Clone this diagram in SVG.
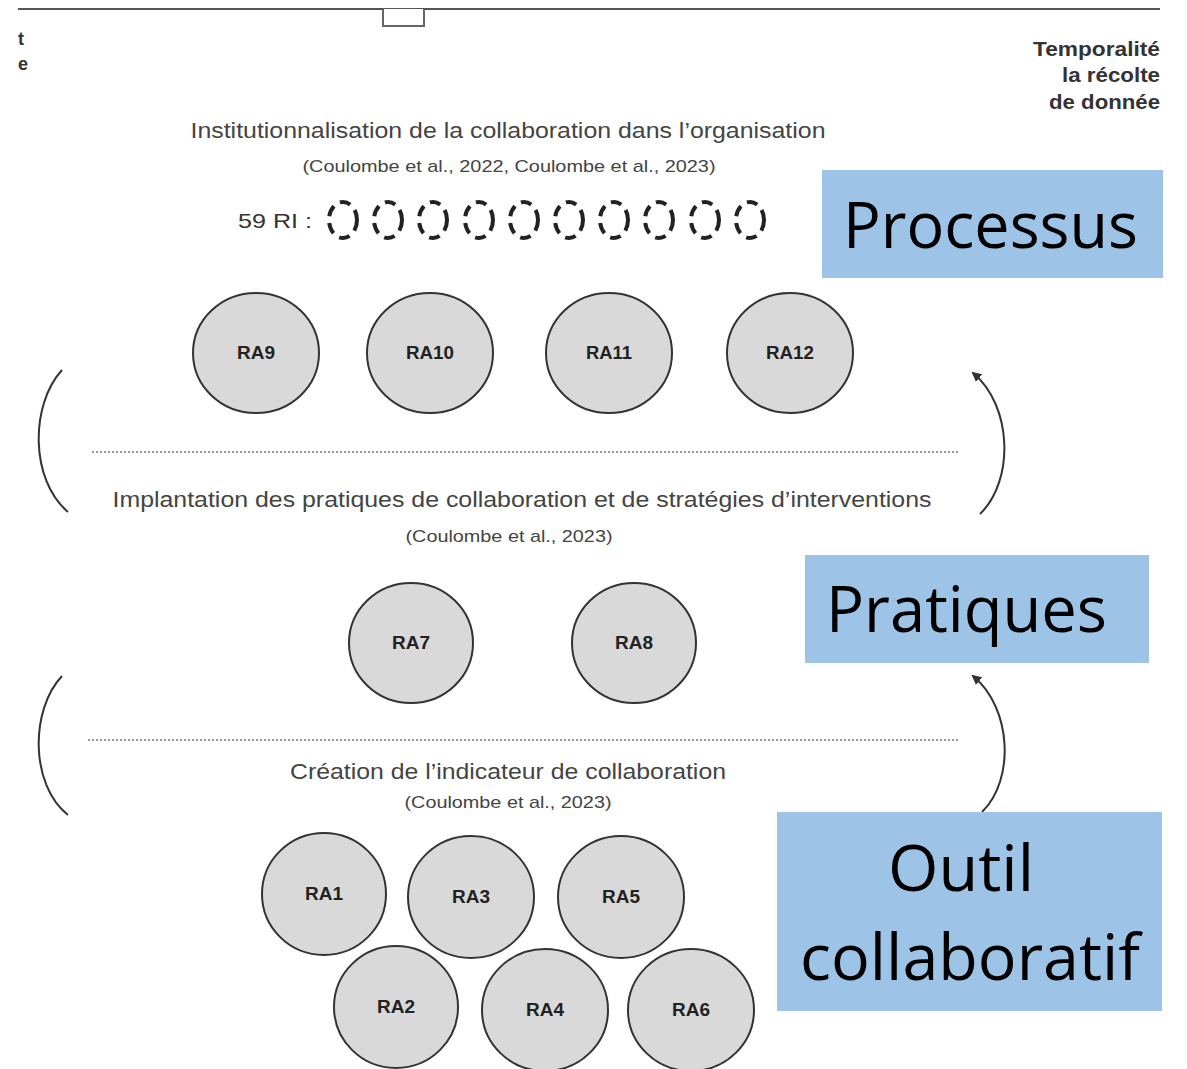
<svg xmlns="http://www.w3.org/2000/svg" width="1187" height="1069" viewBox="0 0 1187 1069">
<style>
.bg{fill:#ffffff}
.ra ellipse{fill:#d9d9d9;stroke:#333;stroke-width:2}
.ra text{font-family:"Liberation Sans",Arial,sans-serif;font-weight:bold;font-size:18px;fill:#222;text-anchor:middle}
.ttl{font-family:"Liberation Sans",Arial,sans-serif;font-size:22px;fill:#444;text-anchor:middle}
.cit{font-family:"Liberation Sans",Arial,sans-serif;font-size:17px;fill:#444;text-anchor:middle}
.tmp{font-family:"Liberation Sans",Arial,sans-serif;font-weight:bold;font-size:20px;fill:#333;text-anchor:end}
.box rect{fill:#9dc3e6}
.box text{font-family:"Open Sans","Noto Sans",sans-serif;font-size:64px;fill:#000}
.dot{stroke:#777;stroke-width:1.5;stroke-dasharray:2 2;fill:none}
.arc{stroke:#333;stroke-width:2;fill:none}
.ri{fill:none;stroke:#222;stroke-width:4;stroke-dasharray:11 7}
</style>
<defs>
<marker id="ah" viewBox="0 0 10 10" refX="8" refY="5" markerWidth="5" markerHeight="5" orient="auto-start-reverse">
<path d="M0,0 L10,5 L0,10 z" fill="#333"/>
</marker>
</defs>
<rect class="bg" x="0" y="0" width="1187" height="1069"/>

<g id="page-frame">
<line x1="18" y1="9" x2="1160" y2="9" stroke="#555" stroke-width="2"/>
<path d="M383,9 L383,26 L424,26 L424,9" fill="#fff" stroke="#666" stroke-width="2"/>
<text x="18" y="45" font-family="Liberation Sans,Arial,sans-serif" font-weight="bold" font-size="18" fill="#333">t</text>
<text x="18" y="70" font-family="Liberation Sans,Arial,sans-serif" font-weight="bold" font-size="18" fill="#333">e</text>
</g>

<g id="temporalite">
<text class="tmp" x="1160" y="56" textLength="127" lengthAdjust="spacingAndGlyphs">Temporalité</text>
<text class="tmp" x="1160" y="82" textLength="98" lengthAdjust="spacingAndGlyphs">la récolte</text>
<text class="tmp" x="1160" y="109" textLength="111" lengthAdjust="spacingAndGlyphs">de donnée</text>
</g>

<g id="section-processus">
<text class="ttl" x="508" y="138" textLength="635" lengthAdjust="spacingAndGlyphs">Institutionnalisation de la collaboration dans l’organisation</text>
<text class="cit" x="509" y="172" textLength="413" lengthAdjust="spacingAndGlyphs">(Coulombe et al., 2022, Coulombe et al., 2023)</text>
</g>

<g id="ri-row">
<text x="238" y="228" font-family="Liberation Sans,Arial,sans-serif" font-size="21" fill="#333" textLength="74" lengthAdjust="spacingAndGlyphs">59 RI :</text>
<ellipse class="ri" cx="343" cy="220" rx="14" ry="18"/>
<ellipse class="ri" cx="388" cy="220" rx="14" ry="18"/>
<ellipse class="ri" cx="433" cy="220" rx="14" ry="18"/>
<ellipse class="ri" cx="479" cy="220" rx="14" ry="18"/>
<ellipse class="ri" cx="524" cy="220" rx="14" ry="18"/>
<ellipse class="ri" cx="569" cy="220" rx="14" ry="18"/>
<ellipse class="ri" cx="614" cy="220" rx="14" ry="18"/>
<ellipse class="ri" cx="659" cy="220" rx="14" ry="18"/>
<ellipse class="ri" cx="705" cy="220" rx="14" ry="18"/>
<ellipse class="ri" cx="750" cy="220" rx="14" ry="18"/>
</g>

<g id="RA9" class="ra"><ellipse cx="256" cy="353" rx="63" ry="60"/><text x="256" y="359" textLength="38" lengthAdjust="spacingAndGlyphs">RA9</text></g>
<g id="RA10" class="ra"><ellipse cx="430" cy="353" rx="63" ry="60"/><text x="430" y="359" textLength="48" lengthAdjust="spacingAndGlyphs">RA10</text></g>
<g id="RA11" class="ra"><ellipse cx="609" cy="353" rx="63" ry="60"/><text x="609" y="359" textLength="46" lengthAdjust="spacingAndGlyphs">RA11</text></g>
<g id="RA12" class="ra"><ellipse cx="790" cy="353" rx="63" ry="60"/><text x="790" y="359" textLength="48" lengthAdjust="spacingAndGlyphs">RA12</text></g>

<g id="section-pratiques">
<text class="ttl" x="522" y="507" textLength="819" lengthAdjust="spacingAndGlyphs">Implantation des pratiques de collaboration et de stratégies d’interventions</text>
<text class="cit" x="509" y="542" textLength="207" lengthAdjust="spacingAndGlyphs">(Coulombe et al., 2023)</text>
</g>

<g id="RA7" class="ra"><ellipse cx="411" cy="643" rx="62" ry="60"/><text x="411" y="649" textLength="38" lengthAdjust="spacingAndGlyphs">RA7</text></g>
<g id="RA8" class="ra"><ellipse cx="634" cy="643" rx="62" ry="60"/><text x="634" y="649" textLength="38" lengthAdjust="spacingAndGlyphs">RA8</text></g>

<g id="section-outil">
<text class="ttl" x="508" y="779" textLength="436" lengthAdjust="spacingAndGlyphs">Création de l’indicateur de collaboration</text>
<text class="cit" x="508" y="808" textLength="207" lengthAdjust="spacingAndGlyphs">(Coulombe et al., 2023)</text>
</g>

<g id="RA1" class="ra"><ellipse cx="324" cy="894" rx="62" ry="61"/><text x="324" y="900" textLength="38" lengthAdjust="spacingAndGlyphs">RA1</text></g>
<g id="RA3" class="ra"><ellipse cx="471" cy="897" rx="63" ry="61"/><text x="471" y="903" textLength="38" lengthAdjust="spacingAndGlyphs">RA3</text></g>
<g id="RA5" class="ra"><ellipse cx="621" cy="897" rx="63" ry="61"/><text x="621" y="903" textLength="38" lengthAdjust="spacingAndGlyphs">RA5</text></g>
<g id="RA2" class="ra"><ellipse cx="396" cy="1007" rx="62" ry="61"/><text x="396" y="1013" textLength="38" lengthAdjust="spacingAndGlyphs">RA2</text></g>
<g id="RA4" class="ra"><ellipse cx="545" cy="1010" rx="63" ry="61"/><text x="545" y="1016" textLength="38" lengthAdjust="spacingAndGlyphs">RA4</text></g>
<g id="RA6" class="ra"><ellipse cx="691" cy="1010" rx="63" ry="61"/><text x="691" y="1016" textLength="38" lengthAdjust="spacingAndGlyphs">RA6</text></g>

<g id="connectors">
<line class="dot" x1="92" y1="452" x2="958" y2="452"/>
<line class="dot" x1="88" y1="740" x2="958" y2="740"/>
<path class="arc" d="M62,370 C30,405 30,480 68,512"/>
<path class="arc" d="M980,514 C1015,480 1012,405 973,373" marker-end="url(#ah)"/>
<path class="arc" d="M62,676 C30,710 30,785 68,815"/>
<path class="arc" d="M982,812 C1015,780 1012,708 973,676" marker-end="url(#ah)"/>
</g>

<g id="box-processus" class="box">
<rect x="822" y="170" width="341" height="108"/>
<text x="843" y="248" textLength="295" lengthAdjust="spacingAndGlyphs">Processus</text>
</g>
<g id="box-pratiques" class="box">
<rect x="805" y="555" width="344" height="108"/>
<text x="826" y="632" textLength="281" lengthAdjust="spacingAndGlyphs">Pratiques</text>
</g>
<g id="box-outil" class="box">
<rect x="777" y="812" width="385" height="199"/>
<text x="961" y="891" text-anchor="middle" textLength="146" lengthAdjust="spacingAndGlyphs">Outil</text>
<text x="970" y="980" text-anchor="middle" textLength="340" lengthAdjust="spacingAndGlyphs">collaboratif</text>
</g>
</svg>
